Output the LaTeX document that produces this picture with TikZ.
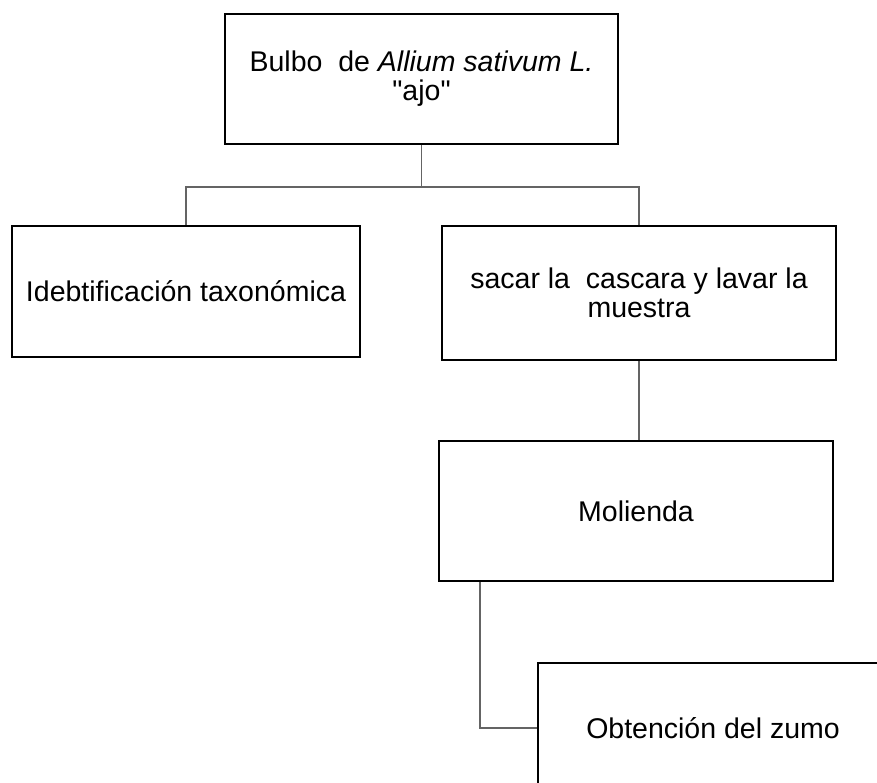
\documentclass[tikz,border=0pt]{standalone}
\usepackage{fontspec}
\setmainfont{Liberation Sans}
\newfontfamily\qfont{Liberation Sans}
\begin{document}
\begin{tikzpicture}[x=1pt,y=-1pt,
  box/.style={draw=black,line width=2pt,fill=white,align=center,inner sep=0pt,
    font=\fontsize{28.5}{29}\selectfont},
  link/.style={draw={rgb,255:red,100;green,100;blue,100},line width=1.2pt}]
\useasboundingbox (0,0) rectangle (877,783);
\clip (0,0) rectangle (877,783);
\node[box,minimum width=393pt,minimum height=130pt] (top) at (421.5,79)
  {Bulbo\ \ de \textit{Allium sativum L.}\\ {\qfont "ajo"}};
\node[box,minimum width=348pt,minimum height=131pt] (left) at (186,291.5)
  {Idebtificación taxonómica};
\node[box,minimum width=394pt,minimum height=134pt] (right) at (639,293)
  {sacar la\ \ cascara y lavar la\\ muestra};
\node[box,minimum width=394pt,minimum height=140pt] (mol) at (636,511)
  {Molienda};
\node[box,minimum width=350pt,minimum height=130pt] (last) at (713,728)
  {Obtención del zumo};
\draw[link] (top.south) -- ++(0,42) coordinate (j);
\draw[link] (left.north) |- (j) -| (right.north);
\draw[link] (right.south) -- (right.south |- mol.north);
\draw[link] ([xshift=42pt]mol.south west) |- (last.west);
\end{tikzpicture}
\end{document}
